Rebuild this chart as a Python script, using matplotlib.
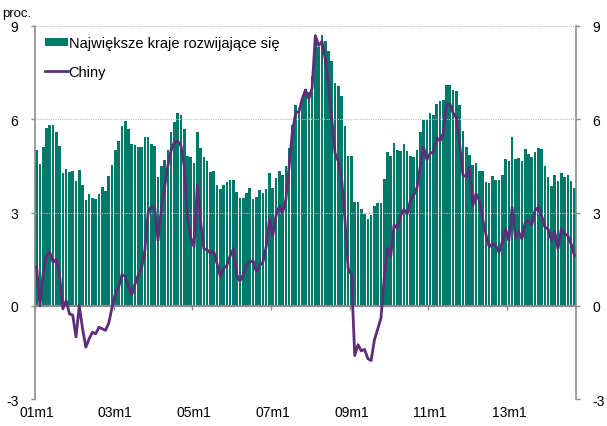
import numpy as np
import pandas as pd
import matplotlib
matplotlib.use("Agg")
import matplotlib.pyplot as plt
import matplotlib.transforms as mtransforms

plt.rcParams['font.family'] = ['Liberation Sans', 'DejaVu Sans']

# monthly data, 2001m1 .. 2014m9
kraje = [5.0, 4.56, 5.1, 5.71, 5.82, 5.8, 5.58, 5.15, 4.28, 4.4, 4.3, 4.32, 4.0, 4.38, 3.87, 3.39,
         3.6, 3.47, 3.44, 3.6, 3.81, 3.69, 4.16, 4.54, 5.01, 5.31, 5.78, 5.93,
         5.67, 5.2, 5.18, 5.12, 5.12, 5.42, 5.42, 5.2, 5.13,
         4.14, 4.48, 4.69, 5.01, 5.6, 5.9, 6.19, 6.12, 5.69, 4.83, 4.78, 4.6, 5.6, 5.07, 4.8, 4.64,
         4.3, 4.35,
         3.9, 3.76, 3.87, 3.98, 4.03, 4.05, 3.65, 3.46, 3.47, 3.62, 3.79, 3.44, 3.51, 3.71, 3.63,
         3.76, 4.28, 3.79, 4.1, 4.33, 4.19, 4.48, 5.08, 5.82, 6.46, 6.25, 6.66,
         6.98, 6.87, 7.4, 8.6, 8.32, 8.72, 8.53, 8.2, 7.86, 7.16, 7.08, 6.76, 5.77, 4.81, 4.81,
         3.33, 3.33, 3.1, 2.96, 2.78, 2.92, 3.2, 3.3, 3.3, 4.08, 4.96, 4.83,
         5.23, 5.01, 4.97, 5.19, 4.97, 4.81, 4.8, 5.01, 5.58, 5.96, 5.96, 6.2, 6.15, 6.49, 6.57,
         6.62, 7.1, 7.1, 6.95, 6.92, 6.46, 5.61, 5.1, 4.85, 4.54, 4.6, 4.34,
         4.35, 3.97, 3.94, 4.16, 4.06, 4.03, 4.21, 4.73, 4.64, 5.42, 4.73, 4.75, 4.65, 5.03, 4.89,
         4.78, 4.94, 5.08, 5.03, 4.49, 4.15, 3.84, 4.22, 4.02, 4.28, 4.15, 4.21, 4.0, 3.8]

chiny = [1.24, 0.0, 1.08, 1.6, 1.72, 1.4, 1.5, 0.97, -0.1, 0.17, -0.26, -0.3, -1.0, 0.0, -0.74,
         -1.33, -1.06, -0.85, -0.9, -0.69, -0.74, -0.79, -0.55, -0.05, 0.4, 0.6, 1.0, 0.95,
         0.6, 0.35, 0.7, 1.0, 1.2, 1.8, 3.0, 3.2, 3.15, 2.1, 3.1, 3.8, 4.5, 5.0, 5.26, 5.3, 5.15,
         4.5, 2.8, 2.2, 1.9, 3.9, 2.7, 1.83, 1.8, 1.7, 1.75,
         1.35, 0.95, 1.2, 1.3, 1.6, 1.83, 1.0, 0.8, 1.0, 1.3, 1.4, 1.45, 1.1, 1.3, 1.4, 1.9, 2.8,
         2.25, 2.9, 3.2, 3.0, 3.4, 4.5, 5.6, 6.2, 6.25, 6.66,
         6.94, 6.66, 7.0, 8.69, 8.37, 8.5, 7.95, 7.1, 6.0, 4.9, 4.65, 4.1, 2.8, 1.2, 1.0, -1.6,
         -1.25, -1.45, -1.4, -1.7, -1.76, -1.1, -0.75, -0.4, 0.9, 1.85, 1.6,
         2.6, 2.5, 2.9, 3.1, 2.95, 3.4, 3.55, 3.8, 4.5, 5.1, 4.7, 4.9, 4.95, 5.4, 5.3, 5.55, 6.45,
         6.5, 6.2, 6.05, 5.2, 4.2, 4.15, 4.45, 3.22, 3.6, 3.39,
         2.8, 2.3, 1.9, 1.99, 1.94, 1.72, 2.05, 2.47, 2.1, 3.17, 2.2, 2.37, 2.15, 2.69, 2.74, 2.6,
         3.06, 3.17, 2.9, 2.53, 2.47, 2.1, 2.37, 1.83, 2.47, 2.31, 2.26, 1.99, 1.62]

months = pd.period_range('2001-01', periods=len(kraje), freq='M')
yticks = [-3, 0, 3, 6, 9]

green = '#00796A'
purple = '#5E2D79'
grey = '#8C8C8C'

fig = plt.figure(figsize=(6.07, 4.27), dpi=100)
ax = fig.add_axes([0.0577, 0.063, 0.8913, 0.874])

x = np.arange(len(months))
bars = ax.bar(x, kraje, width=0.8, color=green, linewidth=0, zorder=2,
              label='Największe kraje rozwijające się')
line, = ax.plot(x, chiny, color=purple, lw=2.0, zorder=4, label='Chiny')

ax.set_xlim(-0.5, len(months) - 0.5)
ax.set_ylim(-3, 9)
ax.set_yticks(yticks)
ax.set_yticklabels([str(v) for v in yticks])

# dotted grid
for v in [-3, 3, 6, 9]:
    ax.axhline(v, color='#BDBDBD', lw=0.8, ls=(0, (1, 1)), zorder=3)

for s in ['top', 'bottom']:
    ax.spines[s].set_visible(False)
for s in ['left', 'right']:
    ax.spines[s].set_color(grey)
    ax.spines[s].set_linewidth(1.2)

# zero line with year ticks
ax.axhline(0, color=grey, lw=1.6, zorder=3)
jan = [i for i, m in enumerate(months) if m.month == 1 and m.year % 2 == 1]
trans = mtransforms.blended_transform_factory(ax.transData, ax.transAxes)
ax.set_xticks([i - 0.5 for i in jan])
ax.tick_params(axis='x', length=0, labelbottom=False)
ax.vlines([i - 0.5 for i in jan], -0.13, 0, color=grey, lw=1.0, zorder=3)
for i in jan:
    m = months[i]
    ax.text(i, -0.016, f"{m.year % 100:02d}m{m.month}", transform=trans,
            ha='center', va='top', fontsize=10)

ax.tick_params(axis='y', left=True, right=True, labelleft=True, labelright=True,
               direction='out', length=3, width=1, color=grey, labelsize=10, pad=9)

ax.text(-0.06, 1.018, 'proc.', transform=ax.transAxes, fontsize=9.5, ha='left', va='bottom')

ax.legend(handles=[bars, line], loc='upper left', bbox_to_anchor=(0.0, 1.0), frameon=False,
          fontsize=10.5, handlelength=1.55, handleheight=0.55, handletextpad=0.05,
          labelspacing=1.0, borderaxespad=0.3)

fig.savefig('out.png', dpi=100)
